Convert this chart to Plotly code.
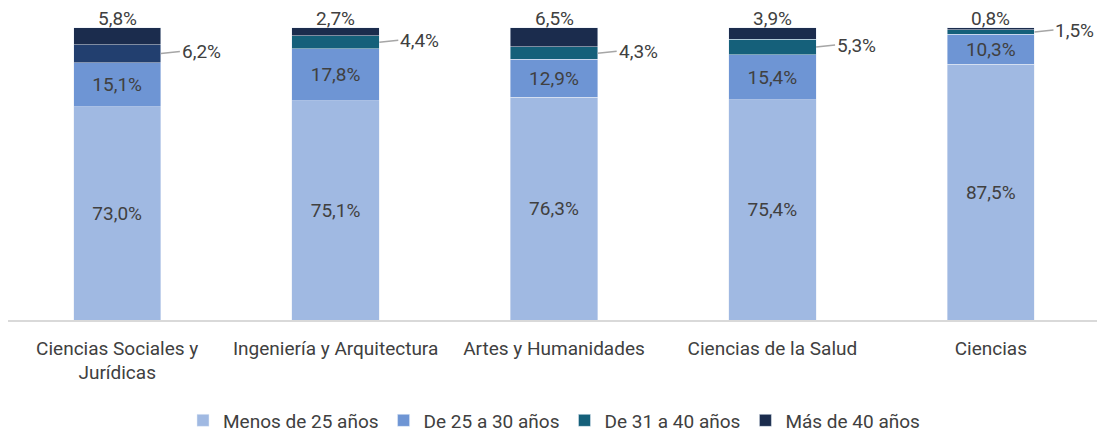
import plotly.graph_objects as go

categories = ["Ciencias Sociales y<br>Jurídicas", "Ingeniería y Arquitectura",
              "Artes y Humanidades", "Ciencias de la Salud", "Ciencias"]
menos_25 = [73.0, 75.1, 76.3, 75.4, 87.5]
de_25_30 = [15.1, 17.8, 12.9, 15.4, 10.3]
de_31_40 = [6.2, 4.4, 4.3, 5.3, 1.5]
mas_40 = [5.8, 2.7, 6.5, 3.9, 0.8]
series_names = ["Menos de 25 años", "De 25 a 30 años", "De 31 a 40 años", "Más de 40 años"]

c_light = "#A0B9E2"
c_mid = "#6E95D4"
c_teal = "#15607A"
c_navy = "#1B2C4D"
c_teal_first = "#223F6F"

FONT = "Roboto"
TXT = "#404040"
FS = 19

def fmt(v):
    return f"{v:.1f}".replace(".", ",") + "%"

fig = go.Figure()
fig.add_trace(go.Bar(x=categories, y=menos_25, name=series_names[0], marker_color=c_light,
                     text=[fmt(v) for v in menos_25], textposition="inside",
                     insidetextanchor="middle", textfont=dict(color=TXT, size=FS),
                     hoverinfo="skip"))
fig.add_trace(go.Bar(x=categories, y=de_25_30, name=series_names[1], marker_color=c_mid,
                     text=[fmt(v) for v in de_25_30], textposition="inside",
                     insidetextanchor="middle", textfont=dict(color=TXT, size=FS),
                     hoverinfo="skip"))
teal_colors = [c_teal_first] + [c_teal] * (len(categories) - 1)
fig.add_trace(go.Bar(x=categories, y=de_31_40, name=series_names[2], marker_color=teal_colors,
                     textposition="none", hoverinfo="skip", showlegend=False))
# legend entry for the 31-40 series (teal swatch)
fig.add_trace(go.Bar(x=[None], y=[None], name=series_names[2], marker_color=c_teal,
                     hoverinfo="skip"))
fig.add_trace(go.Bar(x=categories, y=mas_40, name=series_names[3], marker_color=c_navy,
                     textposition="none", hoverinfo="skip"))

# labels above the stacks (Más de 40 años)
for i, v in enumerate(mas_40):
    total = menos_25[i] + de_25_30[i] + de_31_40[i] + v
    fig.add_annotation(x=i, y=total, xref="x", yref="y", text=fmt(v), showarrow=False,
                       yanchor="bottom", yshift=-4,
                       font=dict(family=FONT, size=FS, color=TXT))

bar_width = 0.4
for i, v in enumerate(de_31_40):
    mid = menos_25[i] + de_25_30[i] + v / 2
    fig.add_annotation(x=i + bar_width / 2, y=mid, xref="x", yref="y",
                       text=fmt(v), showarrow=True, arrowhead=0, arrowwidth=1.5,
                       arrowcolor="#A6A6A6", ax=19, ay=-2, xanchor="left",
                       font=dict(family=FONT, size=FS, color=TXT))

fig.update_layout(
    barmode="stack",
    bargap=0.6,
    width=1097, height=427,
    margin=dict(l=0, r=5, t=19, b=115, autoexpand=False),
    paper_bgcolor="white", plot_bgcolor="white",
    font=dict(family=FONT, size=FS, color=TXT),
    showlegend=True,
    legend=dict(orientation="h", x=0.5, xanchor="center", y=-0.343, yanchor="middle",
                font=dict(family=FONT, size=FS, color=TXT), itemwidth=30,
                traceorder="normal"),
    xaxis=dict(showline=True, linecolor="#D9D9D9", linewidth=1.5, ticks="",
               tickfont=dict(family=FONT, size=FS, color=TXT), fixedrange=True,
               ticklabelstandoff=10, automargin=False),
    yaxis=dict(range=[0, 100.3], visible=False, showgrid=False, fixedrange=True),
)

fig.write_html("out.html")
